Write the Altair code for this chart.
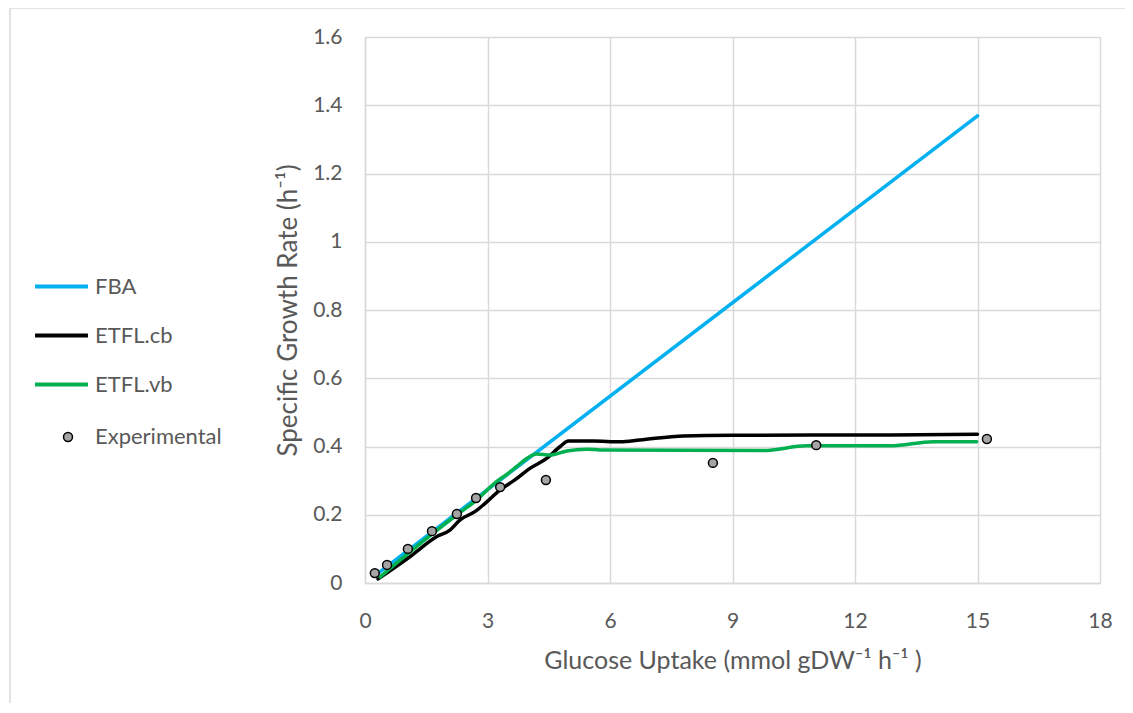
import altair as alt
import pandas as pd

# Series names
line_names = ["FBA", "ETFL.cb", "ETFL.vb"]
line_colors = ["#00b0f0", "#000000", "#00b050"]
point_name = "Experimental"
point_color = "#a5a5a5"

# FBA (straight line)
fba_x = [0.3, 15.0]
fba_y = [0.027, 1.369]

# ETFL.cb
cb_x = [0.32, 1.1, 1.76, 2.08, 2.33, 2.69, 2.9, 3.31, 3.67, 4.04, 4.45, 4.78, 4.98, 5.59, 6.25, 6.73, 7.8, 9.0, 12.86, 15.0]
cb_y = [0.012, 0.077, 0.136, 0.155, 0.185, 0.209, 0.229, 0.273, 0.302, 0.336, 0.365, 0.40, 0.416, 0.416, 0.414, 0.419, 0.431, 0.433, 0.434, 0.436]

# ETFL.vb
vb_x = [0.37, 1.67, 2.25, 2.73, 3.22, 3.47, 3.71, 3.96, 4.2, 4.53, 4.94, 5.43, 5.76, 9.76, 10.82, 12.86, 13.92, 14.98]
vb_y = [0.018, 0.146, 0.2, 0.243, 0.297, 0.318, 0.341, 0.365, 0.378, 0.375, 0.387, 0.392, 0.39, 0.388, 0.402, 0.402, 0.414, 0.414]

# Experimental
exp_x = [0.24, 0.54, 1.05, 1.64, 2.25, 2.72, 3.31, 4.43, 8.52, 11.05, 15.23]
exp_y = [0.029, 0.053, 0.100, 0.152, 0.202, 0.249, 0.281, 0.302, 0.352, 0.404, 0.422]

x_ticks = [0, 3, 6, 9, 12, 15, 18]
y_ticks = [0, 0.2, 0.4, 0.6, 0.8, 1.0, 1.2, 1.4, 1.6]

lines = pd.concat([
    pd.DataFrame({"x": fba_x, "y": fba_y, "series": "FBA", "order": range(len(fba_x))}),
    pd.DataFrame({"x": cb_x, "y": cb_y, "series": "ETFL.cb", "order": range(len(cb_x))}),
    pd.DataFrame({"x": vb_x, "y": vb_y, "series": "ETFL.vb", "order": range(len(vb_x))}),
])
points = pd.DataFrame({"x": exp_x, "y": exp_y, "series": point_name})

FONT = "Lato"
TXT = "#595959"

line_legend = alt.Legend(
    title=None,
    orient="none",
    legendX=-332,
    legendY=221,
    symbolType="stroke",
    symbolSize=2800,
    symbolStrokeWidth=4,
    labelFont=FONT,
    labelFontSize=22,
    labelColor=TXT,
    labelOffset=5,
    rowPadding=9,
)
point_legend = alt.Legend(
    title=None,
    orient="none",
    legendX=-308,
    legendY=389,
    symbolType="circle",
    symbolSize=80,
    symbolStrokeColor="#000000",
    symbolStrokeWidth=1.5,
    symbolFillColor=point_color,
    labelFont=FONT,
    labelFontSize=22,
    labelColor=TXT,
    labelOffset=16,
)

xenc = alt.X(
    "x:Q",
    scale=alt.Scale(domain=[0, 18], nice=False),
    axis=alt.Axis(
        values=x_ticks,
        labelFlush=False,
        title="Glucose Uptake (mmol gDW⁻¹  h⁻¹ )",
        grid=True, gridColor="#d9d9d9", gridWidth=1.5,
        domainColor="#d9d9d9", domainWidth=1.5, ticks=False,
        labelFont=FONT, labelFontSize=21, labelColor=TXT, labelPadding=27,
        titleFont=FONT, titleFontSize=25, titleColor=TXT, titleFontWeight="normal",
        titlePadding=17,
    ),
)
yenc = alt.Y(
    "y:Q",
    scale=alt.Scale(domain=[0, 1.6], nice=False),
    axis=alt.Axis(
        values=y_ticks,
        labelFlush=False,
        format="~g",
        title="Specific Growth Rate (h⁻¹)",
        grid=True, gridColor="#d9d9d9", gridWidth=1.5,
        domainColor="#d9d9d9", domainWidth=1.5, ticks=False,
        labelFont=FONT, labelFontSize=21, labelColor=TXT, labelPadding=23,
        titleFont=FONT, titleFontSize=26, titleColor=TXT, titleFontWeight="normal",
        titlePadding=11,
    ),
)

line_layer = alt.Chart(lines).mark_line(
    strokeWidth=3.5, interpolate="monotone", strokeCap="round", strokeJoin="round"
).encode(
    x=xenc, y=yenc,
    color=alt.Color("series:N", scale=alt.Scale(domain=line_names, range=line_colors), legend=line_legend),
    order="order:Q",
    detail="series:N",
)

point_layer = alt.Chart(points).mark_point(
    filled=True, size=80, stroke="#000000", strokeWidth=1.5, opacity=1
).encode(
    x="x:Q", y="y:Q",
    fill=alt.Fill("series:N", scale=alt.Scale(domain=[point_name], range=[point_color]), legend=point_legend),
)

# chart frame (decorative border)
frame_v = alt.Chart(pd.DataFrame({"a": [0]})).mark_rule(color="#d9d9d9", strokeWidth=1.5).encode(
    x=alt.value(-355), y=alt.value(-29), y2=alt.value(700)
)
frame_h = alt.Chart(pd.DataFrame({"a": [0]})).mark_rule(color="#d9d9d9", strokeWidth=1.5).encode(
    x=alt.value(-355), x2=alt.value(780), y=alt.value(-29)
)

chart = alt.layer(frame_v, frame_h, line_layer, point_layer).properties(
    width=735,
    height=546,
    autosize=alt.AutoSizeParams(type="none"),
    padding={"left": 357, "top": 29, "right": 25, "bottom": 120},
).configure_view(stroke=None).configure(background="white")

chart.save("out.html", embed_options={"renderer": "svg", "actions": False})
